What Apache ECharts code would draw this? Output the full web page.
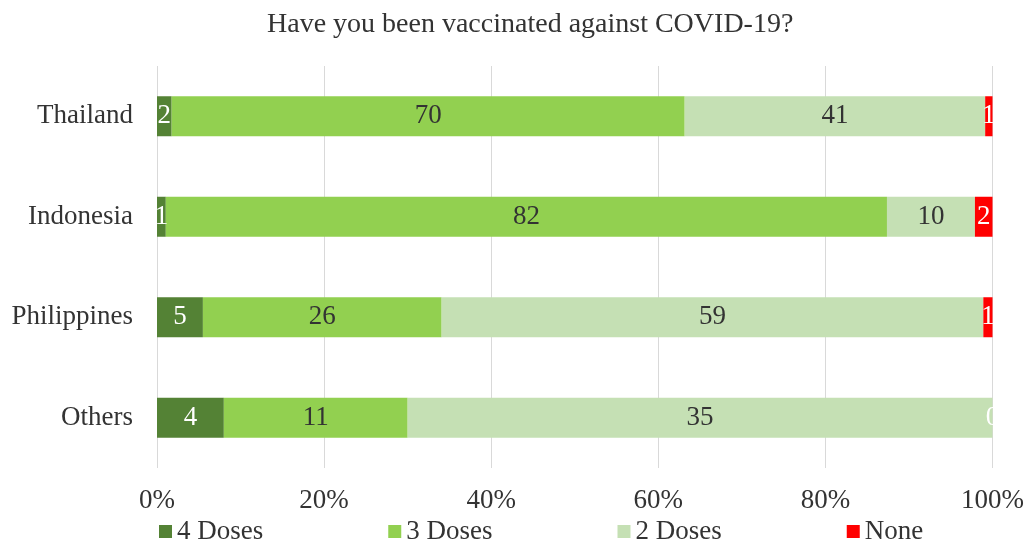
<!DOCTYPE html>
<html>
<head>
<meta charset="utf-8">
<script src="https://cdn.jsdelivr.net/npm/echarts@6/dist/echarts.min.js"></script>
<style>
  html, body { margin: 0; padding: 0; background: #fff; }
  #chart { width: 1027px; height: 548px; }
</style>
</head>
<body>
<div id="chart"></div>
<script>
// Survey responses per country (number of respondents)
const categories = ['Thailand', 'Indonesia', 'Philippines', 'Others'];
const doses4 = [2, 1, 5, 4];
const doses3 = [70, 82, 26, 11];
const doses2 = [41, 10, 59, 35];
const noDose = [1, 2, 1, 0];
const seriesNames = ['4 Doses', '3 Doses', '2 Doses', 'None'];
const tickLabels = ['0%', '20%', '40%', '60%', '80%', '100%'];

const FONT = '"Liberation Serif", "Times New Roman", serif';
const colors = ['#548235', '#92D050', '#C5E0B4', '#FF0000'];
const labelColors = ['#ffffff', '#333333', '#333333', '#ffffff'];

const counts = [doses4, doses3, doses2, noDose];
const totals = categories.map((_, i) => counts.reduce((s, arr) => s + arr[i], 0));

// Each bar segment is the share of respondents; its label shows the count
const series = counts.map((arr, k) => ({
  name: seriesNames[k],
  type: 'bar',
  stack: 'total',
  barWidth: 40,
  itemStyle: { color: colors[k] },
  label: {
    show: true,
    position: 'inside',
    color: labelColors[k],
    fontFamily: FONT,
    fontSize: 27,
    formatter: p => String(arr[p.dataIndex])
  },
  emphasis: { disabled: true },
  data: arr.map((v, i) => v / totals[i] * 100)
}));

const chart = echarts.init(document.getElementById('chart'));
chart.setOption({
  animation: false,
  title: {
    text: 'Have you been vaccinated against COVID-19?',
    left: 262,
    top: 6,
    textStyle: { fontFamily: FONT, fontSize: 28, fontWeight: 'normal', color: '#333' }
  },
  legend: {
    bottom: -2,
    left: 154,
    itemWidth: 13,
    itemHeight: 13,
    itemGap: 125,
    icon: 'rect',
    textStyle: { fontFamily: FONT, fontSize: 27, color: '#333' },
    data: seriesNames
  },
  grid: { left: 157, right: 33, top: 66, bottom: 80 },
  xAxis: {
    type: 'value',
    min: 0,
    max: 100,
    interval: 20,
    axisLine: { show: false },
    axisTick: { show: false },
    splitLine: { lineStyle: { color: '#d9d9d9', width: 1 } },
    axisLabel: {
      margin: 19,
      fontFamily: FONT,
      fontSize: 27,
      color: '#333',
      formatter: v => tickLabels[Math.round(v / 20)]
    }
  },
  yAxis: {
    type: 'category',
    inverse: true,
    data: categories,
    axisLine: { show: false },
    axisTick: { show: false },
    axisLabel: { margin: 24, fontFamily: FONT, fontSize: 27, color: '#333' }
  },
  series: series
});
</script>
</body>
</html>
